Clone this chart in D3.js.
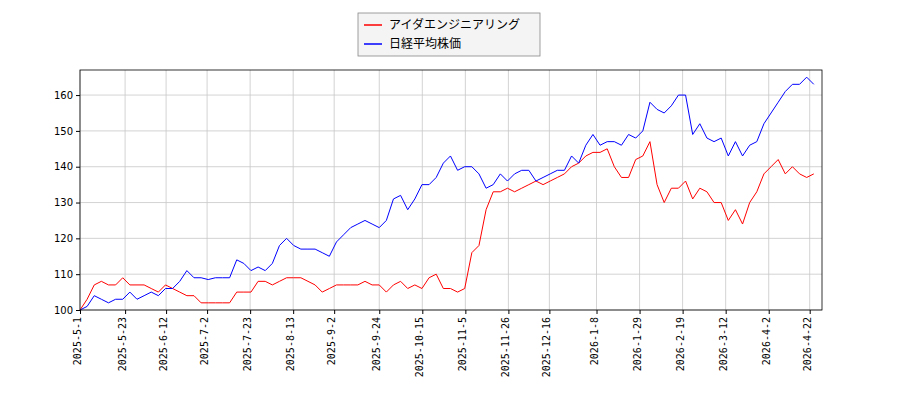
<!DOCTYPE html><html><head><meta charset="utf-8"><script src="https://cdn.jsdelivr.net/npm/d3@7"></script>
<style>body{margin:0;background:#fff}</style></head><body><svg id="c" width="900" height="400"></svg><script>
const seriesNames=["アイダエンジニアリング","日経平均株価"];
const colors=["#ff0000","#0000ff"];
const xTickLabels=["2025-5-1","2025-5-23","2025-6-12","2025-7-2","2025-7-23","2025-8-13","2025-9-2","2025-9-24","2025-10-15","2025-11-5","2025-11-26","2025-12-16","2026-1-8","2026-1-29","2026-2-19","2026-3-12","2026-4-2","2026-4-22"];
const yTicks=[100,110,120,130,140,150,160];
const redVals=[100,103,107,108,107,107,109,107,107,107,106,105,107,106,105,104,104,102,102,102,102,102,105,105,105,108,108,107,108,109,109,109,108,107,105,106,107,107,107,107,108,107,107,105,107,108,106,107,106,109,110,106,106,105,106,116,118,128,133,133,134,133,134,135,136,135,136,137,138,140,141,143,144,144,145,140,137,137,142,143,147,135,130,134,134,136,131,134,133,130,130,125,128,124,130,133,138,140,142,138,140,138,137,138];
const blueVals=[100,101,104,103,102,103,103,105,103,104,105,104,106,106,108,111,109,109,108.5,109,109,109,114,113,111,112,111,113,118,120,118,117,117,117,116,115,119,121,123,124,125,124,123,125,131,132,128,131,135,135,137,141,143,139,140,140,138,134,135,138,136,138,139,139,136,137,138,139,139,143,141,146,149,146,147,147,146,149,148,150,158,156,155,157,160,160,149,152,148,147,148,143,147,143,146,147,152,155,158,161,163,163,165,163];
const startDate=new Date(2025,4,1), endDate=new Date(2026,3,28);
const svg=d3.select("#c");
const m={l:80,r:822,t:70,b:310};
const x=d3.scaleTime().domain([startDate,endDate]).range([m.l,m.r]);
const y=d3.scaleLinear().domain([100,167]).range([m.b,m.t]);
const parse=s=>{const[a,b,c]=s.split("-").map(Number);return new Date(a,b-1,c)};
const tickDates=xTickLabels.map(parse);
const g=svg.append("g");
g.selectAll(".vg").data(tickDates).join("line").attr("x1",d=>x(d)).attr("x2",d=>x(d)).attr("y1",m.t).attr("y2",m.b).attr("stroke","#c8c8c8").attr("stroke-width",0.8);
g.selectAll(".hg").data(yTicks).join("line").attr("x1",m.l).attr("x2",m.r).attr("y1",d=>y(d)).attr("y2",d=>y(d)).attr("stroke","#c8c8c8").attr("stroke-width",0.8);
function draw(vals,col){
  const idx=d3.scaleLinear().domain([0,vals.length-1]).range([startDate.getTime(),endDate.getTime()-4*864e5]);
  svg.append("path").datum(vals).attr("fill","none").attr("stroke",col).attr("stroke-width",1)
   .attr("d",d3.line().x((d,i)=>x(new Date(idx(i)))).y(d=>y(d)));
}
draw(redVals,colors[0]);draw(blueVals,colors[1]);
svg.append("rect").attr("x",m.l).attr("y",m.t).attr("width",m.r-m.l).attr("height",m.b-m.t).attr("fill","none").attr("stroke","#000").attr("stroke-width",0.8);
const xa=svg.append("g").attr("transform",`translate(0,${m.b})`).call(d3.axisBottom(x).tickValues(tickDates).tickFormat((d,i)=>xTickLabels[i]).tickSize(4));
xa.select(".domain").remove();
xa.selectAll("text").attr("transform","rotate(-90)").attr("text-anchor","end").attr("x",-7).attr("y",-3).attr("dy","0.35em").style("font-family","DejaVu Sans Mono, monospace").style("font-size","10px");
const ya=svg.append("g").attr("transform",`translate(${m.l},0)`).call(d3.axisLeft(y).tickValues(yTicks).tickSize(4));
ya.select(".domain").remove();
ya.selectAll("text").style("font-family","DejaVu Sans, sans-serif").style("font-size","10px");
const lg=svg.append("g");
lg.append("rect").attr("x",358).attr("y",13).attr("width",182).attr("height",43).attr("fill","#f4f4f4").attr("stroke","#888").attr("stroke-width",0.8);
seriesNames.forEach((n,i)=>{
  lg.append("line").attr("x1",364).attr("x2",382).attr("y1",25+i*19).attr("y2",25+i*19).attr("stroke",colors[i]).attr("stroke-width",1.5);
  lg.append("text").attr("x",389).attr("y",29+i*19).text(n).style("font-family","Noto Sans CJK JP, sans-serif").style("font-size","12px");
});
</script></body></html>
